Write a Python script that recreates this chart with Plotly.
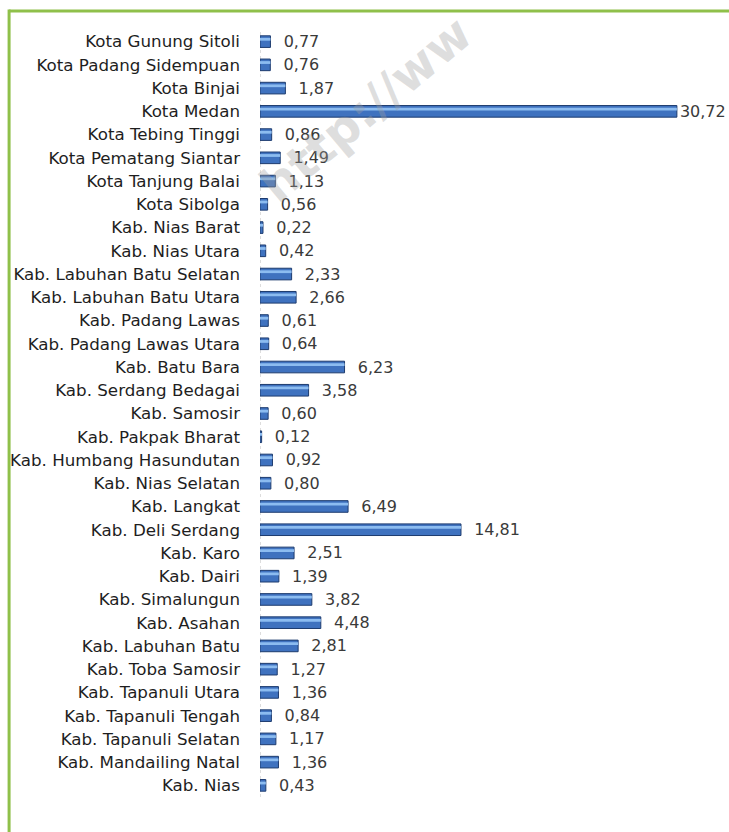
import plotly.graph_objects as go

regions = [
    "Kota Gunung Sitoli", "Kota Padang Sidempuan", "Kota Binjai", "Kota Medan",
    "Kota Tebing Tinggi", "Kota Pematang Siantar", "Kota Tanjung Balai", "Kota Sibolga",
    "Kab. Nias Barat", "Kab. Nias Utara", "Kab. Labuhan Batu Selatan", "Kab. Labuhan Batu Utara",
    "Kab. Padang Lawas", "Kab. Padang Lawas Utara", "Kab. Batu Bara", "Kab. Serdang Bedagai",
    "Kab. Samosir", "Kab. Pakpak Bharat", "Kab. Humbang Hasundutan", "Kab. Nias Selatan",
    "Kab. Langkat", "Kab. Deli Serdang", "Kab. Karo", "Kab. Dairi",
    "Kab. Simalungun", "Kab. Asahan", "Kab. Labuhan Batu", "Kab. Toba Samosir",
    "Kab. Tapanuli Utara", "Kab. Tapanuli Tengah", "Kab. Tapanuli Selatan", "Kab. Mandailing Natal",
    "Kab. Nias",
]
values = [
    0.77, 0.76, 1.87, 30.72,
    0.86, 1.49, 1.13, 0.56,
    0.22, 0.42, 2.33, 2.66,
    0.61, 0.64, 6.23, 3.58,
    0.60, 0.12, 0.92, 0.80,
    6.49, 14.81, 2.51, 1.39,
    3.82, 4.48, 2.81, 1.27,
    1.36, 0.84, 1.17, 1.36,
    0.43,
]
vmax = max(values)
labels = [("" if v == vmax else "  ") + f"{v:.2f}".replace(".", ",") for v in values]

fig = go.Figure()
fig.add_trace(go.Bar(
    y=regions, x=values, orientation="h",
    marker=dict(color="#3f72bf", line=dict(color="#1d3b6e", width=1)),
    width=0.5,
    text=labels, textposition="outside", cliponaxis=False, constraintext="none",
    textfont=dict(family="DejaVu Sans", size=16, color="#3a3a3a"),
    hoverinfo="skip",
))
fig.add_trace(go.Bar(
    y=regions, x=values, orientation="h",
    marker=dict(color="#8cbcf0", line=dict(width=0)),
    width=0.12, offset=-0.16,
    hoverinfo="skip",
))

fig.update_layout(
    width=729, height=832,
    margin=dict(l=260, r=0, t=30, b=35),
    paper_bgcolor="white", plot_bgcolor="white",
    barmode="overlay", showlegend=False,
    font=dict(family="DejaVu Sans"),
    xaxis=dict(range=[0, 34.56], visible=False, fixedrange=True),
    yaxis=dict(
        autorange="reversed", showgrid=False, zeroline=False, showline=False,
        ticks="", ticklabelstandoff=19,
        tickfont=dict(family="DejaVu Sans", size=16.7, color="#1e1e1e"),
    ),
    shapes=[
        dict(type="line", xref="x", yref="paper", x0=0, x1=0, y0=0, y1=1,
             line=dict(color="#bbbbbb", width=1, dash="dot"), layer="below"),
        dict(type="line", xref="paper", yref="paper", x0=-0.535, x1=1.01, y0=1.0248, y1=1.0248,
             line=dict(color="#8fc04a", width=3)),
        dict(type="line", xref="paper", yref="paper", x0=-0.535, x1=-0.535, y0=-0.1, y1=1.0268,
             line=dict(color="#8fc04a", width=3)),
    ],
    annotations=[
        dict(text="<b>http://ww</b>", xref="paper", yref="paper",
             x=0.225, y=0.897, xanchor="center", yanchor="middle",
             textangle=-40, showarrow=False,
             font=dict(family="DejaVu Sans", size=48, color="rgba(160,160,160,0.35)")),
    ],
)

fig.write_html("out.html", config={"displayModeBar": False},
               post_script="document.body.style.margin='0';document.body.style.overflow='hidden';")
